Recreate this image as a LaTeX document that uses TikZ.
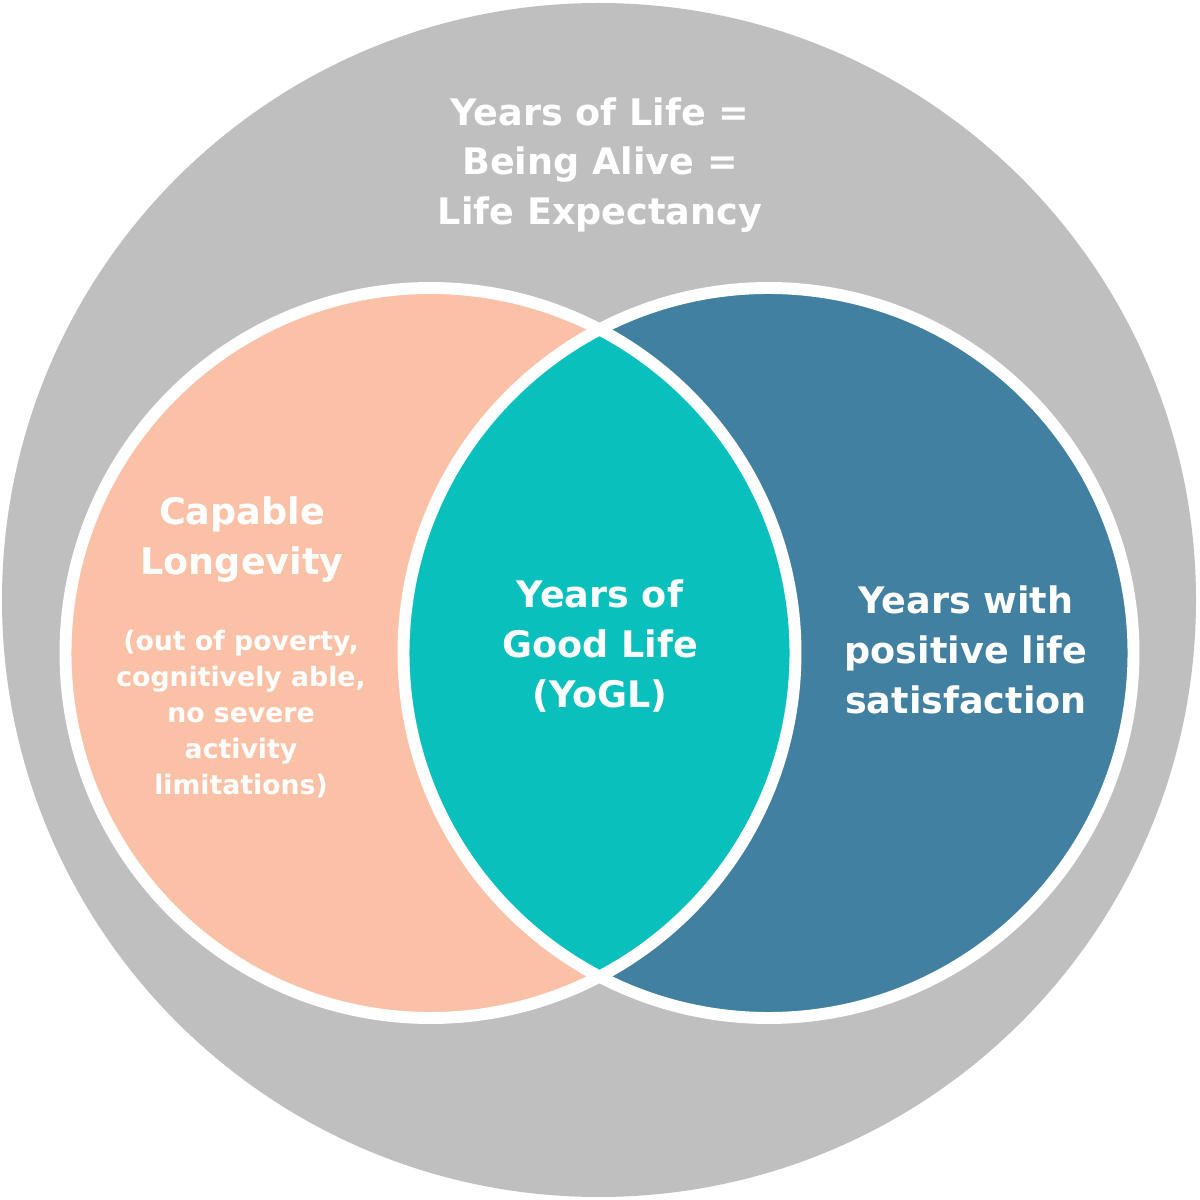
\documentclass[tikz,border=0pt]{standalone}
\usepackage{fontspec}
\setmainfont{DejaVu Sans}
\definecolor{lifegray}{RGB}{191,191,191}
\definecolor{capable}{RGB}{251,193,166}
\definecolor{goodlife}{RGB}{10,192,188}
\definecolor{satisfied}{RGB}{65,128,160}
\tikzset{
  bigtext/.style={align=center, text=white, font=\bfseries\fontsize{10.4}{14.2}\selectfont},
  smalltext/.style={align=center, text=white, font=\bfseries\fontsize{7.6}{10.2}\selectfont},
  ring/.style={draw=white, line width=3.4pt}
}
\begin{document}
\begin{tikzpicture}
\useasboundingbox (0,0) rectangle (12,12);
\fill[lifegray] (5.99,6.0) circle (5.97);

% the two sets and their overlap
\fill[capable] (4.305,5.47) circle (3.65);
\fill[satisfied] (7.685,5.47) circle (3.65);
\begin{scope}
\clip (4.305,5.47) circle (3.65);
\fill[goodlife] (7.685,5.47) circle (3.65);
\end{scope}
\draw[ring] (4.305,5.47) circle (3.65);
\draw[ring] (7.685,5.47) circle (3.65);

\node[bigtext] at (6.0,10.35) (life) {Years of Life =\\ Being Alive =\\ Life Expectancy};
\node[bigtext] at (2.42,6.6) (cap) {Capable\\ Longevity};
\node[smalltext] at (2.41,4.86) (capnote) {(out of poverty,\\ cognitively able,\\ no severe\\ activity\\ limitations)};
\node[bigtext] at (6.0,5.54) (yogl) {Years of\\ Good Life\\ (YoGL)};
\node[bigtext] at (9.66,5.5) (pos) {Years with\\ positive life\\ satisfaction};
\end{tikzpicture}
\end{document}
